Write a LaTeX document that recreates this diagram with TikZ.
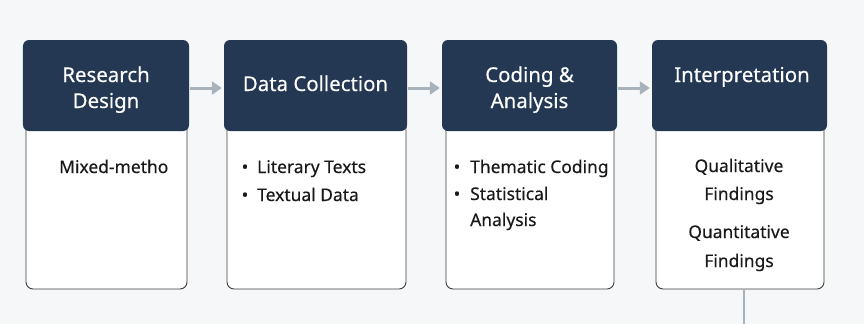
\documentclass[tikz,border=0pt]{standalone}
\usepackage{fontspec}
\setmainfont{Noto Sans}[FakeBold=0.3]
\newfontfamily\headfont{Noto Sans}[FakeBold=0.35]
\usetikzlibrary{arrows.meta}
\definecolor{navy}{RGB}{36,56,84}
\definecolor{bgc}{RGB}{246,247,248}
\definecolor{arrowc}{RGB}{168,178,187}
\definecolor{txt}{RGB}{25,25,25}
\definecolor{edge}{RGB}{60,60,60}
\tikzset{
  head/.style={draw=none, fill=navy, rounded corners=6bp, minimum height=91bp, inner sep=0pt},
  bodybox/.style={draw=edge, line width=0.9bp, fill=white, rounded corners=7bp, minimum height=169bp, inner sep=0pt},
  htext/.style={text=white, font=\headfont\fontsize{20.5}{24}\selectfont\bfseries, inner sep=0pt, anchor=base},
  btext/.style={text=txt, font=\fontsize{17.5}{20}\selectfont\bfseries, inner sep=0pt},
  flow/.style={draw=arrowc, line width=3bp, -{Triangle[length=10bp,width=13bp]}},
  stem/.style={draw=arrowc, line width=2bp}
}
\begin{document}
\begin{tikzpicture}[x=1bp,y=-1bp]
\useasboundingbox[fill=bgc] (0,0) rectangle (864,324);
% lower boxes
\node[bodybox, minimum width=161bp] (b1) at (106.5,204.5) {};
\node[bodybox, minimum width=179bp] (b2) at (316.5,204.5) {};
\node[bodybox, minimum width=168bp] (b3) at (530,204.5) {};
\node[bodybox, minimum width=168bp] (b4) at (740,204.5) {};
% headers
\node[head, minimum width=166bp] (h1) at (106,85.5) {};
\node[head, minimum width=183bp] (h2) at (315.5,85.5) {};
\node[head, minimum width=175bp] (h3) at (529.5,85.5) {};
\node[head, minimum width=175bp] (h4) at (739.5,85.5) {};
% header texts
\node[htext] (t1a) at (106,82) {Research};
\node[htext] (t1b) at (106,108) {Design};
\node[htext] (t2a) at (315.5,91) {Data Collection};
\node[htext] (t3a) at (529.5,82) {Coding \&};
\node[htext] (t3b) at (529.5,108) {Analysis};
\node[htext] (t4a) at (742,82) {Interpretation};
% body texts
\node[btext, anchor=base west] (m1) at (59,173) {Mixed-metho};
\node[btext, anchor=base] (d1) at (245,173) {•};
\node[btext, anchor=base west] (d1t) at (257,173) {Literary Texts};
\node[btext, anchor=base] (d2) at (245,201) {•};
\node[btext, anchor=base west] (d2t) at (257,201) {Textual Data};
\node[btext, anchor=base] (c1) at (457,173) {•};
\node[btext, anchor=base west] (c1t) at (470,173) {Thematic Coding};
\node[btext, anchor=base] (c2) at (457,200) {•};
\node[btext, anchor=base west] (c2t) at (470,200) {Statistical};
\node[btext, anchor=base west] (c3t) at (470,226) {Analysis};
\node[btext, anchor=base] (q1) at (739,172) {Qualitative};
\node[btext, anchor=base] (q2) at (739,200) {Findings};
\node[btext, anchor=base] (q3) at (739,238) {Quantitative};
\node[btext, anchor=base] (q4) at (739,267) {Findings};
% connectors
\draw[flow, shorten <=1bp, shorten >=2bp] ([yshift=-2.5bp]h1.east) -- ([yshift=-2.5bp]h2.west);
\draw[flow, shorten <=1bp, shorten >=2bp] ([yshift=-2.5bp]h2.east) -- ([yshift=-2.5bp]h3.west);
\draw[flow, shorten <=1bp, shorten >=2bp] ([yshift=-2.5bp]h3.east) -- ([yshift=-2.5bp]h4.west);
\coordinate (out) at (744,324);
\draw[stem] (b4.south -| out) -- (out);
\end{tikzpicture}
\end{document}
